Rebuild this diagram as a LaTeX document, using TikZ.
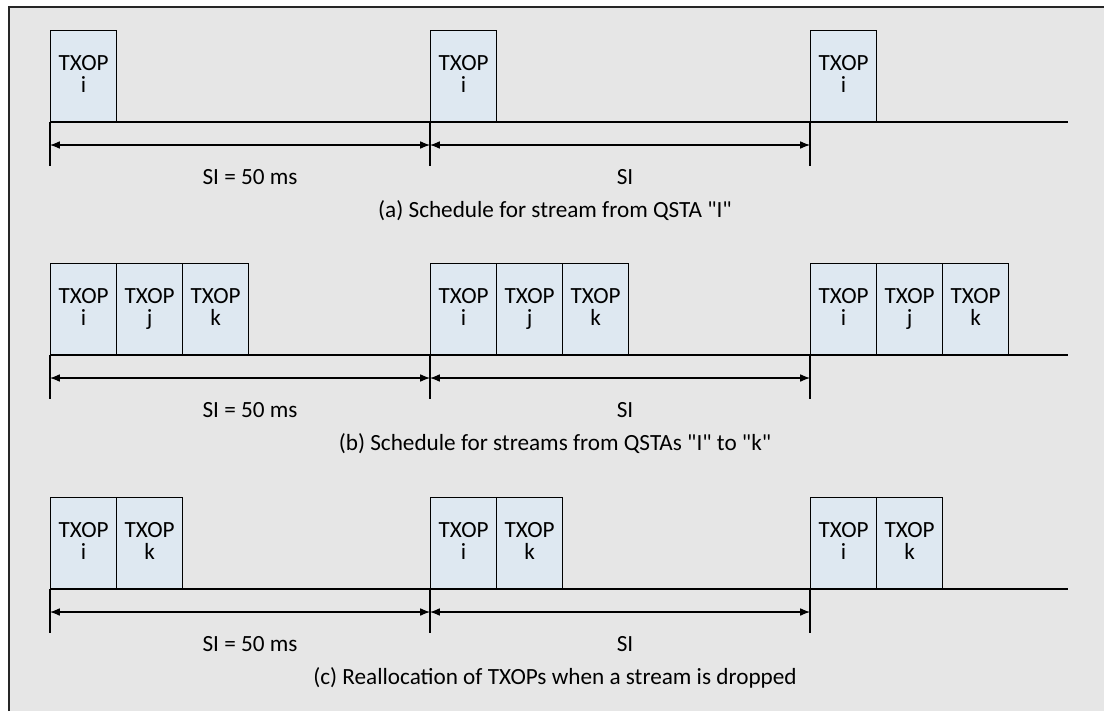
\documentclass[tikz,border=0pt]{standalone}
\usepackage{fontspec}
\setmainfont{Carlito}
\usetikzlibrary{arrows.meta,positioning}
\definecolor{boxblue}{HTML}{DEE8F1}
\definecolor{panelgray}{HTML}{E6E6E6}
\newcommand{\dq}{\XeTeXglyph\the\XeTeXcharglyph"22\relax}
\newcommand{\qt}[1]{\dq#1\dq}

\begin{document}
\begin{tikzpicture}
  [
    x=0.025cm, y=-0.025cm,
    font=\fontsize{16.5}{16}\selectfont,
    txop/.style={draw, line width=0.8pt, fill=boxblue, inner sep=0pt,
      minimum width=1.65cm, minimum height=2.275cm, align=center,
      anchor=south west},
    timeline/.style={line width=0.9pt},
    tick/.style={line width=0.8pt},
    span/.style={line width=0.8pt, {Latex[length=7pt,width=5.5pt]}-{Latex[length=7pt,width=5.5pt]}},
  ]
  % frame
  \useasboundingbox (0,0) rectangle (1104,711);
  \fill[panelgray] (9,7) rectangle (1104,711);
  \draw[line width=1.4pt, black!85] (9,711) -- (9,7) -- (1104,7);
  % three schedules
  \foreach \r/\y/\ids/\cap in {
      a/122/{i}/{(a) Schedule for stream from QSTA \qt{I}},
      b/355/{i,j,k}/{(b) Schedule for streams from QSTAs \qt{I} to \qt{k}},
      c/589/{i,k}/{(c) Reallocation of TXOPs when a stream is dropped}}
  {
    \draw[timeline] (50,\y) -- (1068,\y);
    \foreach \p/\x in {1/50, 2/430, 3/810} {
      \foreach \id [count=\n] in \ids
        \node[txop] (\r\p-\id) at ({\x+66*(\n-1)},\y) {TXOP\\\id\vphantom{j}};
      \coordinate (\r-t\p) at (\x,\y);
      \coordinate (\r-b\p) at (\x,{\y+44});
      \coordinate (\r-m\p) at (\x,{\y+23});
      \draw[tick] (\r-t\p) -- (\r-b\p);
    }
    \draw[span] (\r-m1) -- (\r-m2);
    \draw[span] (\r-m2) -- (\r-m3);
    \node (\r-si1) at (250,{\y+55}) {SI = 50 ms};
    \node (\r-si2) at (625,{\y+55}) {SI};
    \node (\r-cap) at (555,{\y+89}) {\cap};
  }
\end{tikzpicture}
\end{document}
